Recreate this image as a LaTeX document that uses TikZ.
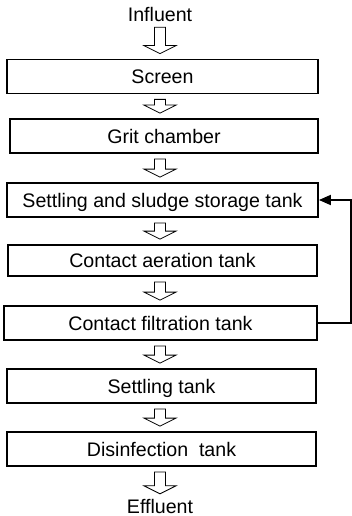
\documentclass[tikz,border=0pt]{standalone}
\usepackage{fontspec}
\setmainfont{Liberation Sans}
\usetikzlibrary{calc,arrows.meta}

\tikzset{
  stage/.style={draw, line width=1.8pt, inner sep=0pt, minimum height=34pt,
    text height=14pt, text depth=0pt, font=\fontsize{19.6}{22}\selectfont},
  endtext/.style={inner sep=0pt, text height=14pt, text depth=0pt,
    font=\fontsize{19.6}{22}\selectfont},
  flow/.style={draw, line width=0.8pt, fill=white},
  recycle/.style={draw, line width=1.8pt, -{Triangle[length=12pt,width=10pt]}}
}

% hollow block arrow between two anchors
\newcommand{\flowarrow}[2]{%
  \path[flow] let \p1=($(influent|-#1)+(0pt,-5pt)$), \p2=($(influent|-#2)+(0pt,5pt)$) in
    (\x1-5.5pt,\y1) -- (\x1+5.5pt,\y1) -- (\x1+5.5pt,\y2+8pt) -- (\x1+16pt,\y2+8pt)
    -- (\x1,\y2) -- (\x1-16pt,\y2+8pt) -- (\x1-5.5pt,\y2+8pt) -- cycle;}

\begin{document}
\begin{tikzpicture}[x=1pt,y=-1pt]
            \useasboundingbox (0,0) rectangle (351,516);

            % In and out
            \node[endtext, anchor=base] (influent) at (160,22) {Influent};
            \node[endtext, anchor=base] (effluent) at (160,513) {Effluent};

            % Treatment stages
            \node[stage, minimum width=311pt] (screen) at (162.5,76.5) {Screen};
            \node[stage, minimum width=308pt] (grit) at (164,136) {Grit chamber};
            \node[stage, minimum width=311pt] (sludge) at (162.5,200) {Settling and sludge storage tank};
            \node[stage, minimum width=309pt, minimum height=31pt] (aeration) at (162.5,260.5) {Contact aeration tank};
            \node[stage, minimum width=313pt] (filtration) at (160.5,323) {Contact filtration tank};
            \node[stage, minimum width=309pt] (settling) at (161.5,386) {Settling tank};
            \node[stage, minimum width=309pt] (disinfection) at (161.5,449) {Disinfection\ \ tank};

            % Flow arrows
            \flowarrow{influent.south}{screen.north}
            \flowarrow{screen.south}{grit.north}
            \flowarrow{grit.south}{sludge.north}
            \flowarrow{sludge.south}{aeration.north}
            \flowarrow{aeration.south}{filtration.north}
            \flowarrow{filtration.south}{settling.north}
            \flowarrow{settling.south}{disinfection.north}
            \flowarrow{disinfection.south}{effluent.north}

            % Return line
            \draw[recycle] (filtration.east) -- ++(33,0) |- (sludge.east);

\end{tikzpicture}
\end{document}
